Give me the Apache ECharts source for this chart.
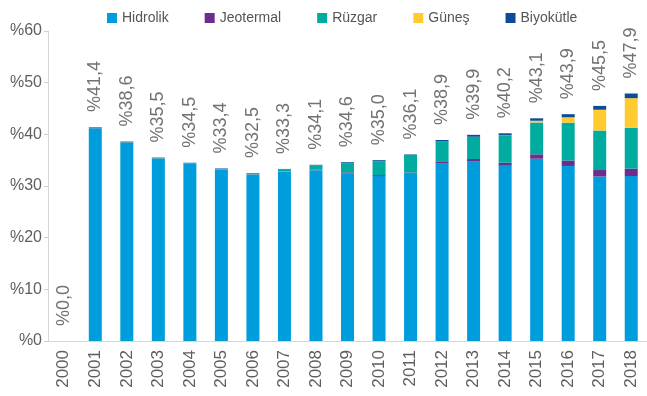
<!DOCTYPE html>
<html>
<head>
<meta charset="utf-8">
<script src="https://cdn.jsdelivr.net/npm/echarts@6/dist/echarts.min.js"></script>
<style>
  html, body { margin: 0; padding: 0; background: #fff; }
  #chart { width: 647px; height: 396px; }
</style>
</head>
<body>
<div id="chart"></div>
<script>
// Installed renewable capacity share by source, 2000-2018 (percent)
const years = ['2000','2001','2002','2003','2004','2005','2006','2007','2008','2009',
               '2010','2011','2012','2013','2014','2015','2016','2017','2018'];
const hidrolik  = [0, 41.19, 38.40, 35.33, 34.31, 33.21, 32.19, 32.78, 33.07, 32.47,
                   31.92, 32.39, 34.38, 34.73, 33.92, 35.28, 33.88, 31.84, 31.92];
const jeotermal = [0, 0.06, 0.06, 0.04, 0.04, 0.04, 0.06, 0.06, 0.07, 0.17,
                   0.19, 0.22, 0.28, 0.49, 0.58, 0.85, 1.05, 1.25, 1.45];
const ruzgar    = [0, 0.07, 0.06, 0.05, 0.05, 0.05, 0.15, 0.36, 0.87, 1.77,
                   2.67, 3.27, 3.96, 4.31, 5.22, 6.16, 7.33, 7.65, 7.91];
const gunes     = [0, 0, 0, 0, 0, 0, 0, 0, 0, 0,
                   0, 0, 0, 0, 0.06, 0.34, 1.04, 4.02, 5.72];
const biyokutle = [0, 0.08, 0.08, 0.08, 0.10, 0.10, 0.10, 0.10, 0.09, 0.19,
                   0.22, 0.22, 0.28, 0.37, 0.42, 0.47, 0.60, 0.74, 0.90];
const yTicks = [0, 10, 20, 30, 40, 50, 60];

const FONT = "'Liberation Sans', Arial, sans-serif";
const colors = {
  Hidrolik: '#009ddc',
  Jeotermal: '#6d2c8e',
  'Rüzgar': '#00ab9f',
  'Güneş': '#ffcb31',
  'Biyokütle': '#0c4c97'
};

const groups = [
  ['Hidrolik', hidrolik],
  ['Jeotermal', jeotermal],
  ['Rüzgar', ruzgar],
  ['Güneş', gunes],
  ['Biyokütle', biyokutle]
];

// stack total per year, shown above each column
const totals = years.map((_, i) => groups.reduce((s, g) => s + g[1][i], 0));
const fmtPct = v => '%' + v.toFixed(1).replace('.', ',');

const series = groups.map(([name, data], k) => ({
  name: name,
  type: 'bar',
  stack: 'total',
  barWidth: 13,
  data: data,
  itemStyle: { color: colors[name] },
  label: k === groups.length - 1 ? {
    show: true,
    position: 'top',
    rotate: 90,
    align: 'left',
    verticalAlign: 'middle',
    distance: 15,
    color: '#727272',
    fontFamily: FONT,
    fontSize: 18,
    formatter: p => fmtPct(totals[p.dataIndex])
  } : { show: false }
}));

const chart = echarts.init(document.getElementById('chart'), null, { renderer: 'canvas' });
chart.setOption({
  animation: false,
  backgroundColor: '#ffffff',
  legend: {
    data: groups.map(g => g[0]),
    left: 102,
    top: 6,
    icon: 'rect',
    itemWidth: 10,
    itemHeight: 10,
    itemGap: 36,
    textStyle: { color: '#555', fontFamily: FONT, fontSize: 14 }
  },
  grid: { left: 48, right: 0, top: 31, bottom: 55, containLabel: false },
  xAxis: {
    type: 'category',
    data: years,
    axisLine: { lineStyle: { color: '#d6d6d6', width: 1 } },
    axisTick: { show: false },
    axisLabel: {
      rotate: 90,
      color: '#5e5e5e',
      fontFamily: FONT,
      fontSize: 17,
      margin: 9
    }
  },
  yAxis: {
    type: 'value',
    min: yTicks[0],
    max: yTicks[yTicks.length - 1],
    interval: 10,
    axisLine: { show: true, lineStyle: { color: '#d6d6d6' } },
    axisTick: { show: true, length: 4, lineStyle: { color: '#cfcfcf' } },
    splitLine: { show: false },
    axisLabel: {
      color: '#5e5e5e',
      fontFamily: FONT,
      fontSize: 16,
      margin: 6,
      formatter: v => '%' + v
    }
  },
  series: series
});
</script>
</body>
</html>
